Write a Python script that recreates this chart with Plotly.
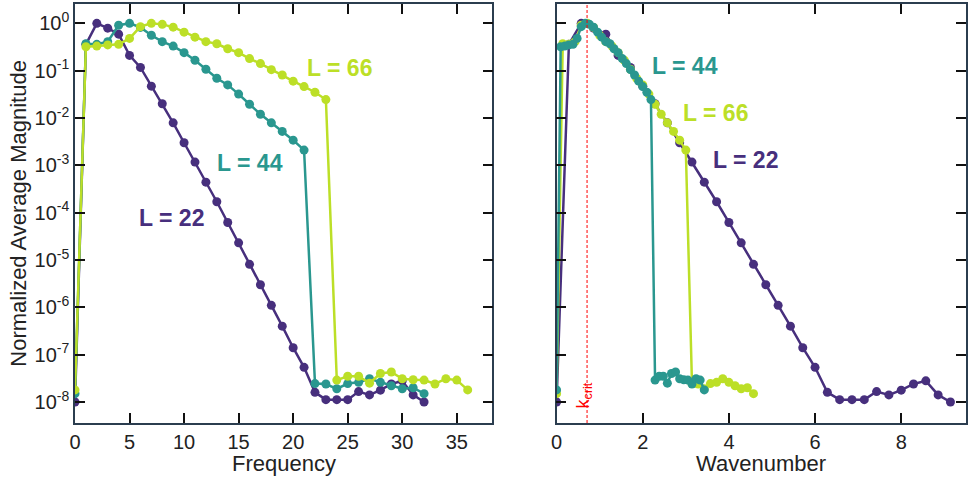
import numpy as np
import plotly.graph_objects as go

# ---------------- data ----------------
FREQ_22 = list(range(33))
MAG_22 = [1.0e-8, 0.36, 1.0, 0.79, 0.59, 0.21, 0.117, 0.047, 0.020, 7.9e-3,
          3.0e-3, 1.17e-3, 4.4e-4, 1.7e-4, 6.2e-5, 2.3e-5, 8.1e-6, 3.0e-6,
          1.1e-6, 4.0e-7, 1.4e-7, 5.4e-8, 1.6e-8, 1.12e-8, 1.12e-8, 1.12e-8,
          1.66e-8, 1.41e-8, 1.78e-8, 2.4e-8, 2.8e-8, 1.41e-8, 1.0e-8]

FREQ_44 = list(range(33))
MAG_44 = [1.5e-8, 0.37, 0.36, 0.41, 0.91, 1.0, 0.82, 0.56, 0.41, 0.33,
          0.24, 0.166, 0.107, 0.069, 0.050, 0.032, 0.0195, 0.012, 7.9e-3,
          5.2e-3, 3.4e-3, 2.1e-3, 2.45e-8, 2.4e-8, 1.9e-8, 2.45e-8, 2.6e-8,
          3.1e-8, 2.6e-8, 2.2e-8, 1.9e-8, 2.0e-8, 1.5e-8]

FREQ_66 = list(range(37))
MAG_66 = [1.8e-8, 0.32, 0.33, 0.35, 0.36, 0.48, 0.85, 1.0, 0.95, 0.83,
          0.65, 0.51, 0.41, 0.37, 0.29, 0.24, 0.18, 0.141, 0.105, 0.081,
          0.060, 0.046, 0.035, 0.0245, 2.9e-8, 3.5e-8, 3.5e-8, 2.5e-8,
          4.0e-8, 4.3e-8, 3.1e-8, 2.95e-8, 2.9e-8, 2.4e-8, 3.1e-8, 2.9e-8,
          1.8e-8]

K_CRIT = 0.707

Y_TICK_VALS = [1e-8, 1e-7, 1e-6, 1e-5, 1e-4, 1e-3, 1e-2, 1e-1, 1e0]
Y_TICK_TEXT = ["10<sup>-8</sup>", "10<sup>-7</sup>", "10<sup>-6</sup>",
               "10<sup>-5</sup>", "10<sup>-4</sup>", "10<sup>-3</sup>",
               "10<sup>-2</sup>", "10<sup>-1</sup>", "10<sup>0</sup>"]
X1_TICKS = [0, 5, 10, 15, 20, 25, 30, 35]
X2_TICKS = [0, 2, 4, 6, 8]

PURPLE = "#472f7d"
TEAL = "#2a978f"
LIME = "#bcdf27"
FONT = "Liberation Sans, Arial, Helvetica, sans-serif"
AXIS_COLOR = "#2b3d4f"


def wavenumber(freqs, L):
    return [2 * np.pi * f / L for f in freqs]


fig = go.Figure()

line_w = 2.5
msize = 9

# left panel: magnitude vs frequency
for fx, mag, col in [(FREQ_22, MAG_22, PURPLE), (FREQ_44, MAG_44, TEAL),
                     (FREQ_66, MAG_66, LIME)]:
    fig.add_trace(go.Scatter(x=fx, y=mag, mode="lines+markers",
                             line=dict(color=col, width=line_w),
                             marker=dict(color=col, size=msize),
                             xaxis="x", yaxis="y", showlegend=False))

# right panel: magnitude vs wavenumber (colours as in the reference)
for fx, mag, L, col in [(FREQ_22, MAG_22, 22, PURPLE),
                        (FREQ_44, MAG_44, 44, LIME),
                        (FREQ_66, MAG_66, 66, TEAL)]:
    fig.add_trace(go.Scatter(x=wavenumber(fx, L), y=mag, mode="lines+markers",
                             line=dict(color=col, width=line_w),
                             marker=dict(color=col, size=msize),
                             xaxis="x2", yaxis="y2", showlegend=False))

common_axis = dict(showgrid=False, zeroline=False, showline=True,
                   linecolor=AXIS_COLOR, linewidth=1.5, mirror="ticks",
                   ticks="inside", ticklen=10, tickwidth=1.5, tickcolor="#111111",
                   tickfont=dict(family=FONT, size=20, color="#222222"))

y_range = [-8.444, 0.408]

fig.update_layout(
    width=969, height=481,
    margin=dict(l=75, r=1, t=4, b=58),
    paper_bgcolor="white", plot_bgcolor="white",
    font=dict(family=FONT),
    xaxis=dict(domain=[0, 0.4684], range=[0, 38.26], tickvals=X1_TICKS,
               anchor="y", **common_axis),
    yaxis=dict(type="log", range=y_range, tickvals=Y_TICK_VALS,
               ticktext=Y_TICK_TEXT, anchor="x", **common_axis),
    xaxis2=dict(domain=[0.5405, 1], range=[0, 9.5], tickvals=X2_TICKS,
                anchor="y2", **common_axis),
    yaxis2=dict(type="log", range=y_range, tickvals=Y_TICK_VALS,
                showticklabels=False, anchor="x2", **common_axis),
)

fig.add_shape(type="line", xref="x2", yref="y2 domain", x0=K_CRIT, x1=K_CRIT,
              y0=0, y1=1, line=dict(color="#ff0000", width=1, dash="3px,2px"))

lab_font = lambda c: dict(family=FONT, size=23, color=c)
ann = [
    dict(text="<b>L = 66</b>", x=24.27, y=-0.945, xref="x", yref="y", font=lab_font(LIME)),
    dict(text="<b>L = 44</b>", x=16.08, y=-2.95, xref="x", yref="y", font=lab_font(TEAL)),
    dict(text="<b>L = 22</b>", x=8.85, y=-4.12, xref="x", yref="y", font=lab_font(PURPLE)),
    dict(text="<b>L = 44</b>", x=2.97, y=-0.90, xref="x2", yref="y2", font=lab_font(TEAL)),
    dict(text="<b>L = 66</b>", x=3.68, y=-1.90, xref="x2", yref="y2", font=lab_font(LIME)),
    dict(text="<b>L = 22</b>", x=4.375, y=-2.89, xref="x2", yref="y2", font=lab_font(PURPLE)),
]
for a in ann:
    fig.add_annotation(showarrow=False, xanchor="center", yanchor="middle", **a)

fig.add_annotation(text="k<sub>crit</sub>", x=K_CRIT, y=-7.86, xref="x2", yref="y2",
                   showarrow=False, textangle=-90, xanchor="center", yanchor="middle",
                   xshift=-3, font=dict(family=FONT, size=18, color="#ff0000"))

fig.add_annotation(text="Frequency", x=0.2342, y=-0.0955, xref="paper", yref="paper",
                   showarrow=False, xanchor="center", yanchor="middle",
                   font=dict(family=FONT, size=22, color="#222222"))
fig.add_annotation(text="Wavenumber", x=0.7703, y=-0.0955, xref="paper", yref="paper",
                   showarrow=False, xanchor="center", yanchor="middle",
                   font=dict(family=FONT, size=22, color="#222222"))
fig.add_annotation(text="Normalized Average Magnitude", x=-0.0638, y=0.5,
                   xref="paper", yref="paper", showarrow=False, textangle=-90,
                   xanchor="center", yanchor="middle",
                   font=dict(family=FONT, size=22, color="#222222"))

fig.write_html("out.html")
